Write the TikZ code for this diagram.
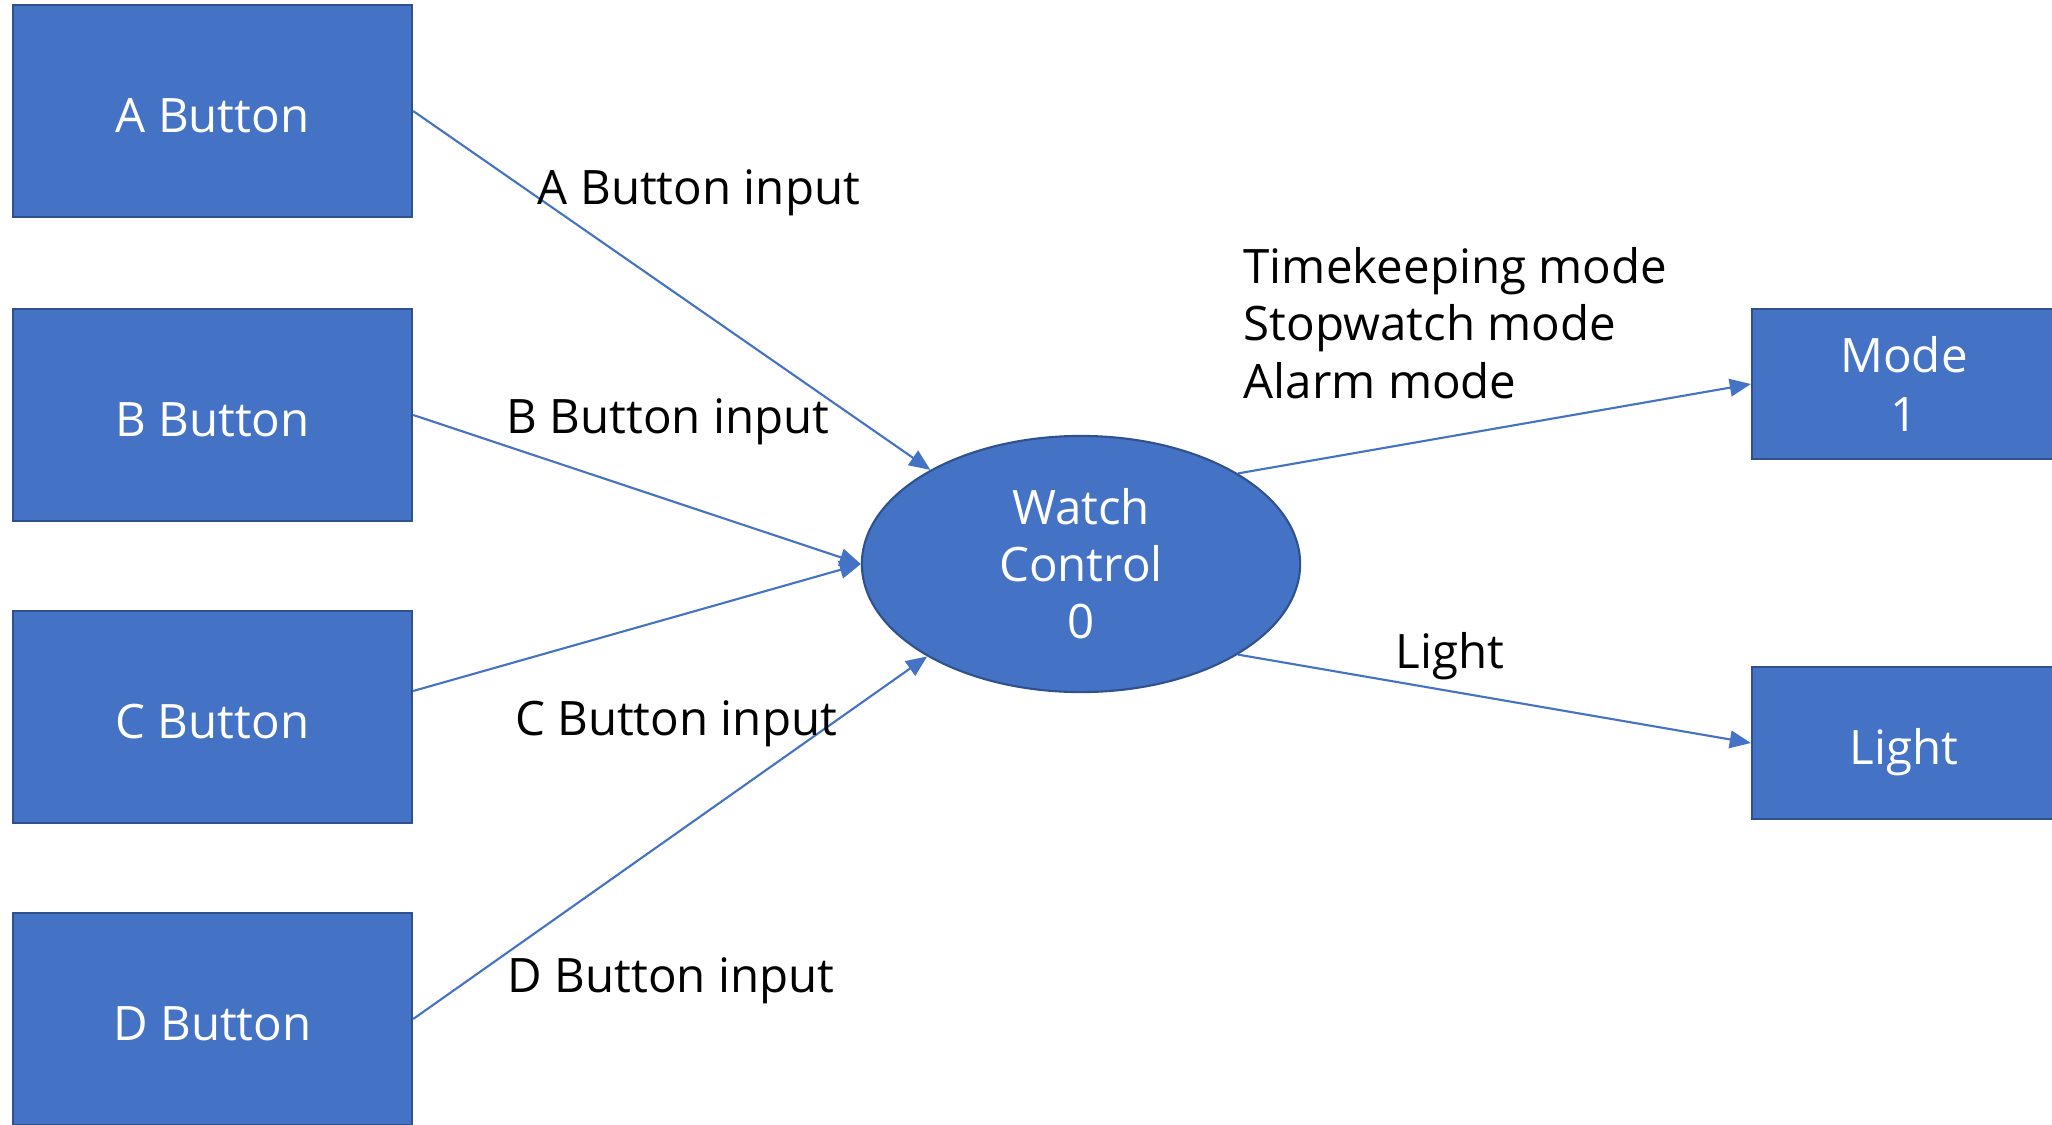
\documentclass[tikz,border=0pt]{standalone}
\usepackage{fontspec}
\setmainfont{Open Sans}
\usetikzlibrary{arrows.meta,shapes.geometric}
\definecolor{ofblue}{HTML}{4472C4}
\definecolor{ofedge}{HTML}{2F528F}
\begin{document}
\begin{tikzpicture}[x=0.01cm,y=-0.01cm,
  box/.style={draw=ofedge, line width=0.6pt, fill=ofblue, text=white, inner sep=0pt, font=\fontsize{13.5}{16.2}\selectfont, align=center},
  onebox/.style={box, text height=12pt, text depth=0pt},
  conn/.style={draw=ofblue, line width=0.6pt, -{Triangle[length=6pt,width=5pt]}},
  lbl/.style={font=\fontsize{13.5}{16.4}\selectfont, inner sep=0pt, text=black}]
\useasboundingbox (0,0) rectangle (2052,1124);
\node[onebox, minimum width=3.99cm, minimum height=2.12cm] (A) at (212.5,111) {A Button};
\node[onebox, minimum width=3.99cm, minimum height=2.12cm] (B) at (212.5,415) {B Button};
\node[onebox, minimum width=3.99cm, minimum height=2.12cm] (C) at (212.5,717) {C Button};
\node[onebox, minimum width=3.99cm, minimum height=2.12cm] (D) at (212.5,1019) {D Button};
\node[box, ellipse, minimum width=4.38cm, minimum height=2.56cm] (W) at (1081,564) {Watch\\Control\\0};
\node[box, minimum width=3.04cm, minimum height=1.50cm] (M) at (1904,384) {Mode\\[0.5pt]1};
\node[onebox, minimum width=3.04cm, minimum height=1.52cm] (L) at (1904,743) {Light};
\draw[conn] (A.east) -- (W.148.9);
\draw[conn] (B.east) -- (W.west);
\draw[conn] ([yshift=0.26cm]C.east) -- (W.west);
\draw[conn] (D.east) -- (W.211.1);
\draw[conn] (W.30.5) -- (M.west);
\draw[conn] (W.-30.5) -- (L.west);
\node[lbl] (la) at (699,193) {A Button input};
\node[lbl] (lb) at (668,422) {B Button input};
\node[lbl] (lc) at (676,724) {C Button input};
\node[lbl] (ld) at (671,981) {D Button input};
\node[lbl, anchor=west, align=left] (lm) at (1243,323) {Timekeeping mode\\Stopwatch mode\\Alarm mode};
\node[lbl] (ll) at (1450,656) {Light};
\end{tikzpicture}
\end{document}
